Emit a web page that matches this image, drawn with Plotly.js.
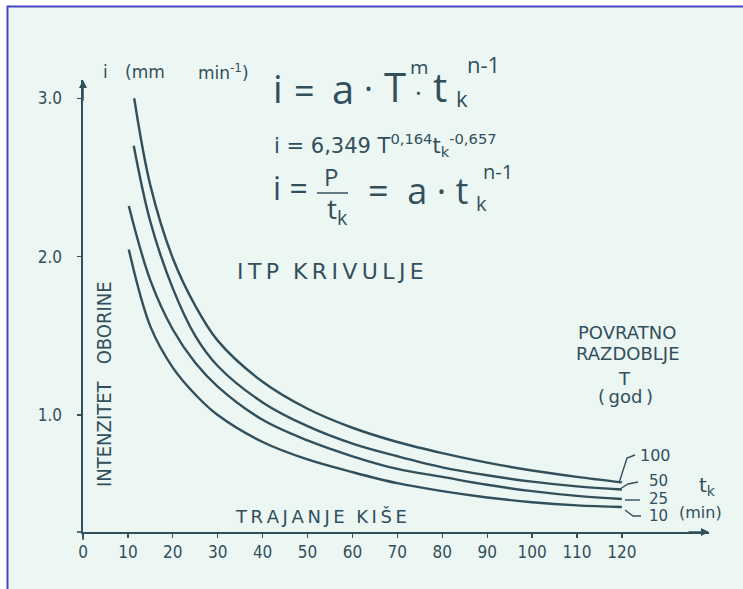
<!DOCTYPE html>
<html>
<head>
<meta charset="utf-8">
<script src="https://cdn.plot.ly/plotly-3.0.1.min.js"></script>
<style>
html,body{margin:0;padding:0;background:#ffffff;}
#plot{width:743px;height:589px;}
</style>
</head>
<body>
<div id="plot"></div>
<script>
// ---- data ----
const tk100 = [11.4, 15, 20, 25, 30, 40, 50, 60, 70, 80, 90, 100, 110, 120];
const i100  = [3.00, 2.45, 1.99, 1.69, 1.47, 1.21, 1.04, 0.92, 0.83, 0.76, 0.70, 0.65, 0.61, 0.575];
const tk50  = [11.3, 15, 20, 25, 30, 40, 50, 60, 70, 80, 90, 100, 110, 120];
const i50   = [2.70, 2.22, 1.80, 1.50, 1.31, 1.08, 0.93, 0.82, 0.74, 0.67, 0.62, 0.58, 0.55, 0.53];
const tk25  = [10.2, 15, 20, 25, 30, 40, 50, 60, 70, 80, 90, 100, 110, 120];
const i25   = [2.32, 1.85, 1.54, 1.33, 1.18, 0.97, 0.84, 0.74, 0.66, 0.61, 0.56, 0.52, 0.49, 0.47];
const tk10  = [10.2, 15, 20, 25, 30, 40, 50, 60, 70, 80, 90, 100, 110, 120];
const i10   = [2.045, 1.56, 1.30, 1.13, 1.00, 0.83, 0.72, 0.64, 0.57, 0.52, 0.48, 0.45, 0.43, 0.42];
const xTickVals = [0, 10, 20, 30, 40, 50, 60, 70, 80, 90, 100, 110, 120];
const xTickText = ['0','10','20','30','40','50','60','70','80','90','100','110','120'];
const yTickVals = [1, 2, 3];
const yTickText = ['1.0', '2.0', '3.0'];
const periodLabels = ['100', '50', '25', '10'];

// ---- layout helpers ----
const L = 83, R = 709, T = 80, B = 532;
const X = px => (px - L) / (R - L);
const Y = py => (B - py) / (B - T);
const INK = '#324f5c';
const BG = '#ecf6f2';
const LET = 'DejaVu Sans, sans-serif';
const COND = 'DejaVu Sans Condensed, DejaVu Sans, sans-serif';
const HAND = 'Open Sans, sans-serif';
const TS = '\u2009';
const spaced = s => s.split(' ').map(w => w.split('').join(TS)).join('  ');

function ann(text, px, py, size, opt, fam) {
  return Object.assign({
    text: text, xref: 'paper', yref: 'paper', x: X(px), y: Y(py),
    showarrow: false, xanchor: 'center', yanchor: 'middle',
    font: {family: fam || LET, size: size, color: INK}
  }, opt || {});
}
function hand(text, px, py, size, opt) {
  return ann(text, px, py, size, opt, HAND);
}

const curve = (x, y, name) => ({
  x: x, y: y, name: name, type: 'scatter', mode: 'lines',
  line: {color: INK, width: 2.4, shape: 'spline', smoothing: 1},
  hoverinfo: 'x+y', showlegend: false
});

const data = [
  curve(tk100, i100, 'T = 100'),
  curve(tk50, i50, 'T = 50'),
  curve(tk25, i25, 'T = 25'),
  curve(tk10, i10, 'T = 10')
];

const annotations = [
  // axis arrows
  {xref: 'paper', yref: 'paper', x: 1, y: 0, ax: -22, ay: 0, showarrow: true,
   arrowhead: 2, arrowsize: 1, arrowwidth: 1.6, arrowcolor: INK, text: ''},
  {xref: 'paper', yref: 'paper', x: 0, y: 1, ax: 0, ay: 22, showarrow: true,
   arrowhead: 2, arrowsize: 1, arrowwidth: 1.6, arrowcolor: INK, text: ''},
  // y axis unit
  ann('i', 105, 72, 17),
  ann('(mm', 123, 72, 17, {xanchor: 'left'}),
  ann('min<sup>-1</sup>)', 196, 72, 17, {xanchor: 'left'}),
  // formula 1 (handwritten)
  hand('i', 278, 88, 38),
  hand('=', 304, 90, 36),
  hand('a', 343, 88, 40),
  hand('·', 368, 88, 34),
  hand('T', 395, 86, 40),
  hand('m', 419, 67, 20, {height: 14}),
  hand('·', 418, 92, 26, {height: 14}),
  hand('t', 440, 86, 40),
  hand('k', 462, 98, 22),
  hand('n-1', 483, 64, 22),
  // formula 2
  ann('i = 6,349 T<sup>0,164</sup>t<sub>k</sub><sup>-0,657</sup>', 272, 145, 21, {xanchor: 'left'}),
  // formula 3
  hand('i =', 271, 187, 32, {xanchor: 'left'}),
  hand('P', 331, 177, 24),
  hand('t<sub>k</sub>', 337, 210, 28),
  hand('=  a · t', 366, 190, 36, {xanchor: 'left'}),
  hand('k', 481, 203, 20),
  hand('n-1', 498, 171, 20),
  // titles
  ann(spaced('ITP KRIVULJE'), 330, 271, 22),
  ann('INTENZITET   OBORINE', 104, 384, 20, {textangle: -90}, COND),
  ann(spaced('TRAJANJE KIŠE'), 321, 516, 18),
  ann('POVRATNO', 627, 332, 18),
  ann('RAZDOBLJE', 628, 353, 18),
  ann('T', 624, 378, 18),
  ann('(' + TS + 'god' + TS + ')', 625, 396, 18),
  // return-period labels
  ann(periodLabels[0], 638, 455, 16, {xanchor: 'left'}),
  ann(periodLabels[1], 647, 481, 15, {xanchor: 'left'}),
  ann(periodLabels[2], 647, 498.5, 15, {xanchor: 'left'}),
  ann(periodLabels[3], 647, 516, 15, {xanchor: 'left'}),
  ann('t<sub>k</sub>', 697, 486, 20, {xanchor: 'left'}),
  ann('(min)', 677, 512, 16, {xanchor: 'left'})
];

const P = (pts) => 'M' + pts.map(p => X(p[0]) + ',' + Y(p[1])).join('L');
const lineStyle = {color: INK, width: 1.4};
const shapes = [
  // white strips outside the scan border
  {type: 'rect', xref: 'paper', yref: 'paper', x0: X(0), x1: X(743), y0: Y(0), y1: Y(6),
   fillcolor: '#ffffff', line: {width: 0}, layer: 'below'},
  {type: 'rect', xref: 'paper', yref: 'paper', x0: X(0), x1: X(7), y0: Y(0), y1: Y(589),
   fillcolor: '#ffffff', line: {width: 0}, layer: 'below'},
  {type: 'line', xref: 'paper', yref: 'paper', x0: X(7), x1: X(743), y0: Y(6.5), y1: Y(6.5),
   line: {color: '#4545c4', width: 2}},
  {type: 'line', xref: 'paper', yref: 'paper', x0: X(7.5), x1: X(7.5), y0: Y(6), y1: Y(589),
   line: {color: '#4545c4', width: 2}},
  // axis stubs past the origin
  {type: 'line', xref: 'paper', yref: 'paper', x0: X(77), x1: X(83), y0: Y(532), y1: Y(532),
   line: {color: INK, width: 1.6}},
  {type: 'line', xref: 'paper', yref: 'paper', x0: X(83), x1: X(83), y0: Y(532), y1: Y(540),
   line: {color: INK, width: 1.6}},
  // leader lines to period labels
  {type: 'path', xref: 'paper', yref: 'paper', path: P([[619, 483], [627, 458], [635, 455]]), line: lineStyle},
  {type: 'path', xref: 'paper', yref: 'paper', path: P([[620, 489], [628, 484], [638, 482]]), line: lineStyle},
  {type: 'path', xref: 'paper', yref: 'paper', path: P([[625, 500], [640, 500]]), line: lineStyle},
  {type: 'path', xref: 'paper', yref: 'paper', path: P([[625, 510], [633, 516], [641, 516]]), line: lineStyle},
  // fraction bar
  {type: 'line', xref: 'paper', yref: 'paper', x0: X(317), x1: X(348), y0: Y(193), y1: Y(193),
   line: {color: INK, width: 1.5}}
];

const layout = {
  width: 743, height: 589,
  margin: {l: L, r: 743 - R, t: T, b: 589 - B, pad: 0},
  paper_bgcolor: BG, plot_bgcolor: BG,
  showlegend: false,
  xaxis: {
    range: [0, 139.4], showgrid: false, zeroline: false,
    showline: true, linecolor: INK, linewidth: 1.6,
    tickmode: 'array', tickvals: xTickVals, ticktext: xTickText,
    ticks: 'outside', ticklen: 4, tickwidth: 1.3, tickcolor: INK,
    tickfont: {family: COND, size: 17, color: INK}
  },
  yaxis: {
    range: [0.262, 3.115], showgrid: false, zeroline: false,
    showline: true, linecolor: INK, linewidth: 1.6,
    tickmode: 'array', tickvals: yTickVals, ticktext: yTickText,
    ticks: 'outside', ticklen: 4, tickwidth: 1.3, tickcolor: INK,
    ticklabelstandoff: 12,
    tickfont: {family: COND, size: 17, color: INK}
  },
  annotations: annotations,
  shapes: shapes
};

Plotly.newPlot('plot', data, layout, {displayModeBar: false, staticPlot: true});
</script>
</body>
</html>
